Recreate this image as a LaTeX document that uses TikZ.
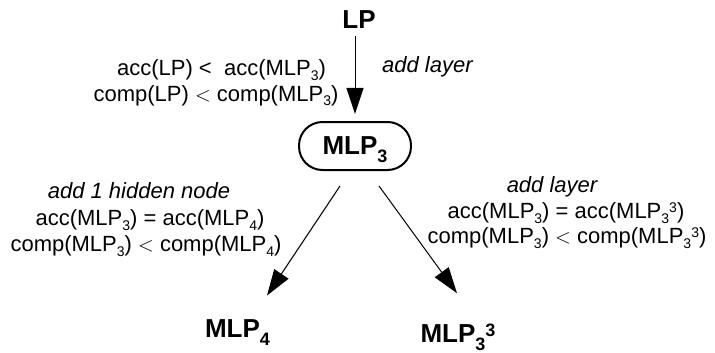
\documentclass[tikz,border=0pt]{standalone}
\usepackage{fontspec}
\setmainfont{Liberation Sans}
\usetikzlibrary{arrows.meta,calc}
% lowered / raised indices for regular and bold labels
\newcommand{\rs}[1]{\raisebox{-5pt}{\fontsize{14pt}{14pt}\selectfont #1}}
\newcommand{\rp}[1]{\raisebox{6pt}{\fontsize{14pt}{14pt}\selectfont #1}}
\newcommand{\bs}[1]{\raisebox{-8pt}{\fontsize{18pt}{18pt}\selectfont #1}}
\newcommand{\bp}[1]{\raisebox{6pt}{\fontsize{18pt}{18pt}\selectfont #1}}
\begin{document}
\begin{tikzpicture}[x=1pt,y=-1pt,
  lbl/.style={anchor=base, inner sep=0pt, font=\fontsize{22pt}{24pt}\selectfont},
  act/.style={lbl, font=\fontsize{22pt}{24pt}\selectfont\itshape},
  big/.style={anchor=base, inner sep=0pt, font=\fontsize{26pt}{30pt}\selectfont\bfseries},
  arr/.style={-{Triangle[length=26pt,width=17pt]}, line width=1pt}]
\useasboundingbox (0,0) rectangle (715,353);
\fill[white] (0,0) rectangle (715,353);

% models
\node[big] (LP) at (359,29) {LP};
\node[draw, line width=2pt, rounded corners=23.5pt, minimum width=112pt,
      minimum height=48pt, inner sep=0pt, text depth=0pt,
      font=\fontsize{26pt}{30pt}\selectfont\bfseries]
      (MLP3) at (355,146) {MLP\bs{3}};
\node[big] (MLP4) at (237.5,337) {MLP\bs{4}};
\node[big] (MLP33) at (458,342) {MLP\bs{3}\bp{3}};

% transitions
\draw[arr, shorten <=7pt, shorten >=7pt] (LP.south -| MLP3.north) -- (MLP3.north);
\draw[arr] ($(MLP3.south)+(-15,15)$) -- ($(MLP4.north)+(29.5,-23.4)$);
\draw[arr] ($(MLP3.south)+(24,15)$) -- ($(MLP33.north)+(-1,-30)$);

% LP -> MLP3
\node[act, anchor=base west] (a1) at (382,73) {add layer};
\node[lbl] (c1) at (221.5,76) {acc(LP) <\ \ acc(MLP\rs{3})};
\node[lbl] (c2) at (216,101) {comp(LP) $<$ comp(MLP\rs{3})};

% MLP3 -> MLP4
\node[act] (a2) at (139,198) {add 1 hidden node};
\node[lbl] (c3) at (150,225) {acc(MLP\rs{3}) = acc(MLP\rs{4})};
\node[lbl] (c4) at (146,251) {comp(MLP\rs{3}) $<$ comp(MLP\rs{4})};

% MLP3 -> MLP3^3
\node[act] (a3) at (552,192) {add layer};
\node[lbl] (c5) at (566,218) {acc(MLP\rs{3}) = acc(MLP\rs{3}\rp{3})};
\node[lbl] (c6) at (567,243) {comp(MLP\rs{3}) $<$ comp(MLP\rs{3}\rp{3})};
\end{tikzpicture}
\end{document}
